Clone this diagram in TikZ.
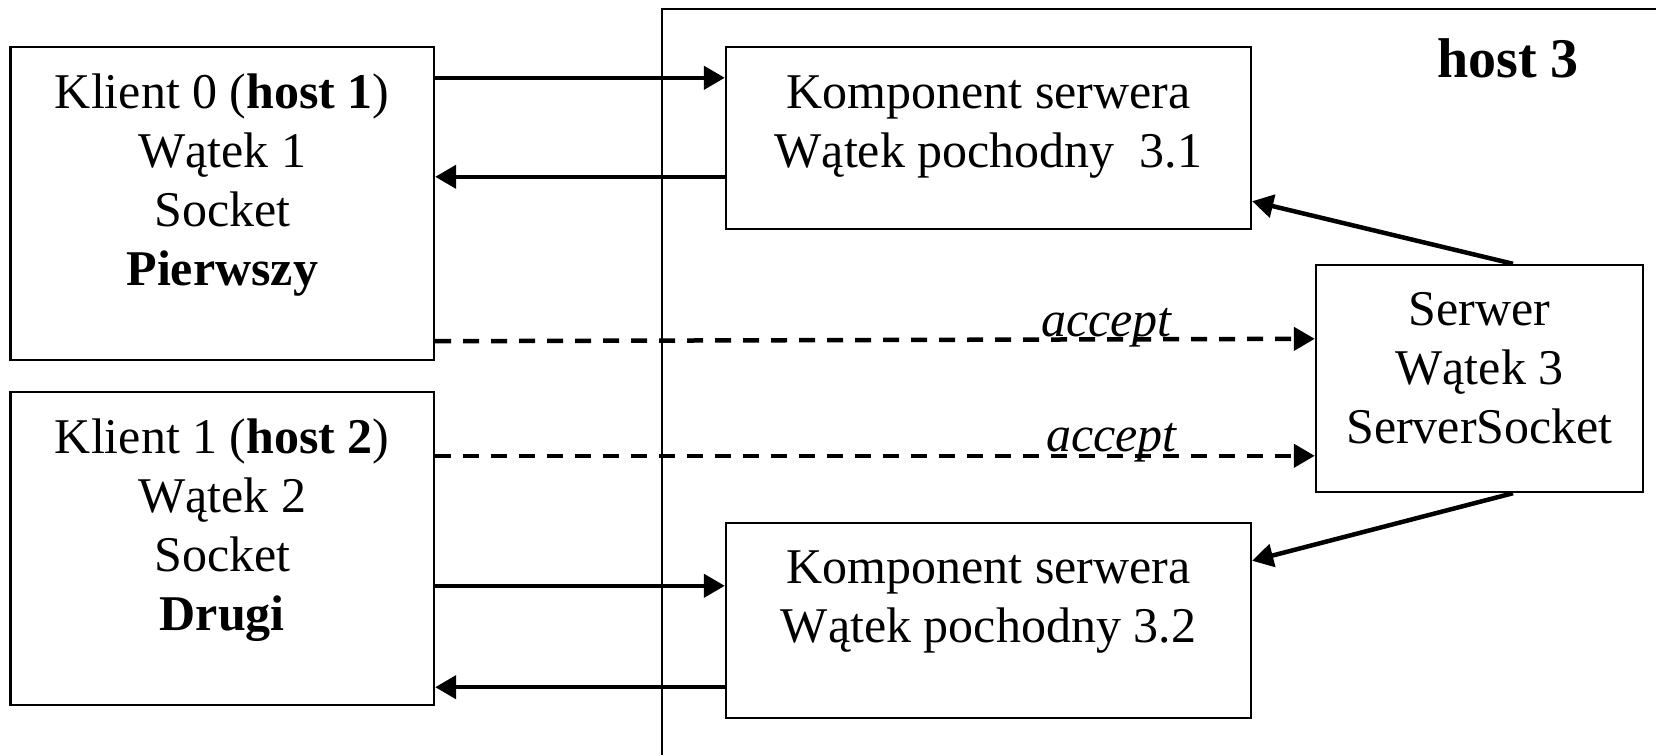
\documentclass[tikz,border=0pt]{standalone}
\usepackage{fontspec}
\setmainfont{Liberation Serif}
\usetikzlibrary{arrows.meta}
\tikzset{
  box/.style={draw, line width=2.4pt, inner sep=0pt, rectangle},
  txt/.style={align=center, inner sep=0pt, anchor=base, font=\fontsize{50}{59}\selectfont},
  conn/.style={line width=4.5pt, -{Triangle[length=21pt,width=23pt]}},
  dconn/.style={conn, dash pattern=on 16pt off 12pt},
  lbl/.style={inner sep=0pt, anchor=base, font=\fontsize{50}{59}\selectfont\itshape},
  frame/.style={line width=2.2pt}
}
\begin{document}
\begin{tikzpicture}[x=1pt,y=-1pt]
\useasboundingbox (0,0) rectangle (1656,755);
% host 3 frame
\coordinate (fb) at (662,755);
\coordinate (ftl) at (662,9);
\coordinate (fr) at (1656,9);
\draw[frame] (fb) -- (ftl) -- (fr);
\node[inner sep=0pt, anchor=base, font=\fontsize{56}{60}\selectfont\bfseries] (h3) at (1508,77) {host 3};
% boxes
\node[box, minimum width=423.4pt, minimum height=313pt] (k0) at (222.3,203.5) {};
\node[box, minimum width=423.4pt, minimum height=313pt] (k1) at (222.3,548.5) {};
\node[box, minimum width=525pt, minimum height=182pt] (c1) at (988.5,138) {};
\node[box, minimum width=525pt, minimum height=195pt] (c2) at (988.5,620.5) {};
\node[box, minimum width=327pt, minimum height=227pt] (s) at (1479.5,378.5) {};
% texts (anchor base = last line's baseline)
\node[txt] (k0t) at (222.3,285) {Klient 0 (\textbf{host 1})\\Wątek 1\\Socket\\\textbf{Pierwszy}};
\node[txt] (k1t) at (222.3,630) {Klient 1 (\textbf{host 2})\\Wątek 2\\Socket\\\textbf{Drugi}};
\node[txt] (c1t) at (988.5,167) {Komponent serwera\\Wątek pochodny\ \ 3.1};
\node[txt] (c2t) at (988.5,642) {Komponent serwera\\Wątek pochodny 3.2};
\node[txt] (st) at (1479.5,443) {Serwer\\Wątek 3\\ServerSocket};
% connectors
\draw[conn] ([yshift=-32pt]k0.north east) -- ([yshift=-32pt]c1.north west);
\draw[conn] ([yshift=-131pt]c1.north west) -- ([yshift=-131pt]k0.north east);
\draw[dconn] ([yshift=20pt]k0.south east) -- node[lbl, pos=0.763, yshift=3pt] (a1) {accept} ([yshift=-75pt]s.north west);
\draw[dconn] ([yshift=-65pt]k1.north east) -- node[lbl, pos=0.769, yshift=4pt] (a2) {accept} ([yshift=-192pt]s.north west);
\draw[conn] ([yshift=-195pt]k1.north east) -- ([yshift=-64pt]c2.north west);
\draw[conn] ([yshift=32pt]c2.south west) -- ([yshift=19pt]k1.south east);
\draw[conn] ([xshift=33.5pt]s.north) -- ([yshift=29pt]c1.south east);
\draw[conn] ([xshift=33.5pt]s.south) -- ([yshift=-39pt]c2.north east);
\end{tikzpicture}
\end{document}
